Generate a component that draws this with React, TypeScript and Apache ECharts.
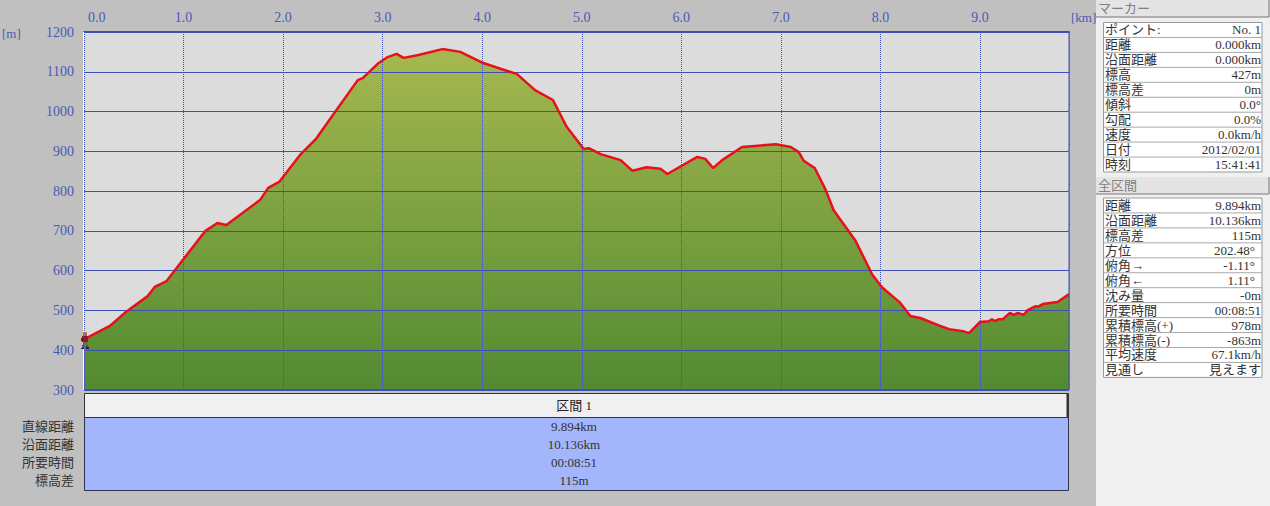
import React, { useEffect, useRef } from "react";
import * as echarts from "echarts";

const distanceKm = [0, 0.26, 0.41, 0.64, 0.71, 0.83, 1.07, 1.22, 1.34, 1.43, 1.77, 1.85, 1.96, 2.17, 2.33, 2.57, 2.75, 2.8, 2.95, 3.05, 3.14, 3.21, 3.36, 3.6, 3.78, 4.01, 4.35, 4.53, 4.71, 4.85, 5.02, 5.07, 5.19, 5.39, 5.51, 5.65, 5.79, 5.86, 6.16, 6.24, 6.32, 6.41, 6.61, 6.95, 7.1, 7.18, 7.23, 7.34, 7.45, 7.53, 7.75, 7.92, 8.02, 8.2, 8.3, 8.4, 8.5, 8.6, 8.69, 8.83, 8.89, 9.0, 9.09, 9.12, 9.15, 9.19, 9.23, 9.3, 9.34, 9.38, 9.44, 9.48, 9.56, 9.58, 9.63, 9.78, 9.894];
const elevationM = [427, 461, 494, 536, 559, 574, 652, 700, 720, 715, 778, 808, 823, 891, 931, 1016, 1079, 1084, 1120, 1137, 1145, 1135, 1142, 1157, 1150, 1122, 1094, 1054, 1029, 961, 906, 908, 893, 878, 851, 860, 856, 843, 886, 881, 858, 878, 911, 918, 911, 898, 876, 858, 803, 752, 675, 589, 557, 519, 486, 481, 471, 461, 453, 448, 443, 471, 473, 478, 473, 478, 478, 494, 489, 494, 489, 501, 511, 509, 516, 521, 541];

const markerRows = [
  ["ポイント:", "No. 1"], ["距離", "0.000km"], ["沿面距離", "0.000km"], ["標高", "427m"], ["標高差", "0m"],
  ["傾斜", "0.0°"], ["勾配", "0.0%"], ["速度", "0.0km/h"], ["日付", "2012/02/01"], ["時刻", "15:41:41"],
];
const totalRows = [
  ["距離", "9.894km"], ["沿面距離", "10.136km"], ["標高差", "115m"], ["方位", "202.48°"], ["俯角→", "-1.11°"], ["俯角←", "1.11°"],
  ["沈み量", "-0m"], ["所要時間", "00:08:51"], ["累積標高(+)", "978m"], ["累積標高(-)", "-863m"], ["平均速度", "67.1km/h"], ["見通し", "見えます"],
];
const sectionLabels = ["直線距離", "沿面距離", "所要時間", "標高差"];
const sectionValues = ["9.894km", "10.136km", "00:08:51", "115m"];
const sectionTitle = "区間 1";

const FONT = '"Liberation Serif","Noto Sans CJK JP"';
const BLUE = "#3f4fb8";
const TEXT = "#333333";

function panelTable(top: number, rows: string[][]) {
  const h = 14.95;
  const out: any[] = [
    { type: "rect", shape: { x: 1103.5, y: top, width: 158.5, height: h * rows.length }, style: { fill: "#ffffff", stroke: "#9a9a9a", lineWidth: 1 } },
  ];
  rows.forEach((r, i) => {
    const y = top + h * i;
    if (i > 0) out.push({ type: "line", shape: { x1: 1104, y1: y, x2: 1262, y2: y }, style: { stroke: "#a8a8a8", lineWidth: 1 } });
    const shift = r[1].endsWith("°") && r[1].length > 4 ? 6 : 0;
    out.push({ type: "text", x: 1105, y: y + h / 2, style: { text: r[0], font: `13px ${FONT}`, fill: TEXT, textAlign: "left", textVerticalAlign: "middle" } });
    out.push({ type: "text", x: 1261 - shift, y: y + h / 2, style: { text: r[1], font: `13px ${FONT}`, fill: TEXT, textAlign: "right", textVerticalAlign: "middle" } });
  });
  return out;
}

function panelHeader(top: number, height: number, label: string) {
  return [
    { type: "rect", shape: { x: 1096, y: top, width: 174, height }, style: { fill: "#e4e4e4" } },
    { type: "line", shape: { x1: 1096, y1: top + height, x2: 1269, y2: top + height }, style: { stroke: "#777777", lineWidth: 1 } },
    { type: "line", shape: { x1: 1269, y1: top, x2: 1269, y2: top + height }, style: { stroke: "#777777", lineWidth: 1 } },
    { type: "text", x: 1098, y: top + height / 2, style: { text: label, font: `13px ${FONT}`, fill: "#808080", textVerticalAlign: "middle" } },
  ];
}

function buildGraphics() {
  const els: any[] = [
    { type: "rect", z: -1, shape: { x: 1096, y: 0, width: 174, height: 506 }, style: { fill: "#f0f0f0" } },
    ...panelHeader(0, 17, "マーカー"),
    ...panelHeader(177, 17, "全区間"),
    ...panelTable(22.5, markerRows),
    ...panelTable(198, totalRows),
    { type: "text", x: 1071, y: 17, style: { text: "[km]", font: `13px ${FONT}`, fill: "#4a5ab4", textVerticalAlign: "middle" } },
    { type: "text", x: 2, y: 33, style: { text: "[m]", font: `13px ${FONT}`, fill: "#4a5ab4", textVerticalAlign: "middle" } },
    { type: "rect", shape: { x: 84.5, y: 393.5, width: 984, height: 24 }, style: { fill: "#f0f0f0", stroke: "#333333", lineWidth: 1 } },
    { type: "line", shape: { x1: 1067.5, y1: 394, x2: 1067.5, y2: 418 }, style: { stroke: "#333333", lineWidth: 2 } },
    { type: "rect", shape: { x: 84.5, y: 417.5, width: 984, height: 73 }, style: { fill: "#a3b6fb", stroke: "#2c3350", lineWidth: 1 } },
    { type: "text", x: 574, y: 405, style: { text: sectionTitle, font: `13px ${FONT}`, fill: "#222222", textAlign: "center", textVerticalAlign: "middle" } },
  ];
  sectionLabels.forEach((t, i) => {
    els.push({ type: "text", x: 74, y: 426.5 + i * 18, style: { text: t, font: `13px ${FONT}`, fill: TEXT, textAlign: "right", textVerticalAlign: "middle" } });
  });
  sectionValues.forEach((t, i) => {
    els.push({ type: "text", x: 574, y: 426.5 + i * 18, style: { text: t, font: `13px ${FONT}`, fill: TEXT, textAlign: "center", textVerticalAlign: "middle" } });
  });
  // white edge and dotted left border of the plot
  els.push({ type: "line", z: 20, shape: { x1: 83.5, y1: 32, x2: 83.5, y2: 390 }, style: { stroke: "#ffffff", lineWidth: 1 } });
  els.push({ type: "line", z: 20, shape: { x1: 84.5, y1: 32, x2: 84.5, y2: 390 }, style: { stroke: BLUE, lineWidth: 1, lineDash: [1, 1] } });
  // walker icon at the marker position
  const walker: [number, number, number, number, string][] = [
    [83, 332, 4, 1, "#a08070"], [83, 333, 4, 3, "#b06a5a"], [82, 336, 6, 6, "#8c1c2c"], [81, 338, 2, 3, "#701520"],
    [83, 342, 4, 3, "#6a6a50"], [82, 345, 2, 3, "#555544"], [86, 345, 2, 2, "#555544"], [81, 348, 3, 1, "#222222"], [86, 347, 3, 2, "#222222"],
  ];
  walker.forEach(([x, y, width, height, fill]) => {
    els.push({ type: "rect", z: 30, shape: { x, y, width, height }, style: { fill } });
  });
  return els;
}

export default function App() {
  const ref = useRef<HTMLDivElement>(null);
  useEffect(() => {
    document.body.style.margin = "0";
    document.body.style.overflow = "hidden";
    const chart = echarts.init(ref.current!, undefined, { renderer: "svg" });
    const points = distanceKm.map((d, i) => [d, elevationM[i]]);
    chart.setOption({
      animation: false,
      backgroundColor: "#c0c0c0",
      textStyle: { fontFamily: FONT },
      grid: { left: 84, right: 201, top: 32, bottom: 116, show: true, backgroundColor: "#dcdcdc", borderWidth: 0 },
      xAxis: {
        type: "value", position: "top", min: 0, max: 9.894, interval: 1, z: 3,
        axisLine: { show: true, onZero: false, lineStyle: { color: BLUE, width: 2 } },
        axisTick: { show: false },
        axisLabel: {
          margin: 8, alignMinLabel: "left", showMaxLabel: false, color: "#4a5ab4", fontFamily: FONT, fontSize: 14,
          formatter: (v: number) => (v === 0 ? "{p|0.0}" : v.toFixed(1)),
          rich: { p: { padding: [0, 0, 0, 4], color: "#4a5ab4", fontFamily: FONT, fontSize: 14 } },
        },
        splitLine: { show: true, lineStyle: { color: BLUE, width: 1, type: [1, 1] } },
      },
      yAxis: {
        type: "value", min: 300, max: 1200, interval: 100, z: 3,
        axisLine: { show: false },
        axisTick: { show: false },
        axisLabel: { margin: 10, color: "#4a5ab4", fontFamily: FONT, fontSize: 14, formatter: (v: number) => String(v) },
        splitLine: { show: true, lineStyle: { color: BLUE, width: 1 } },
      },
      series: [
        {
          type: "line",
          data: points,
          symbol: "none",
          silent: true,
          lineStyle: { width: 0 },
          areaStyle: {
            origin: "start",
            opacity: 1,
            color: new echarts.graphic.LinearGradient(0, 48, 0, 390, [
              { offset: 0, color: "#a6b850" },
              { offset: 1, color: "#528a31" },
            ], true),
          },
          z: 1,
        },
        {
          type: "line",
          data: points,
          symbol: "none",
          lineStyle: { color: "#e8101c", width: 2.5 },
          z: 5,
        },
        {
          type: "line", data: [[0, 300], [9.894, 300]], symbol: "none", silent: true,
          lineStyle: { color: BLUE, width: 2 }, z: 5,
        },
        {
          type: "line", data: [[9.894, 300], [9.894, 1200]], symbol: "none", silent: true,
          lineStyle: { color: BLUE, width: 1 }, z: 5,
        },
      ],
      graphic: buildGraphics(),
    });
    return () => chart.dispose();
  }, []);
  return <div ref={ref} style={{ position: "fixed", left: 0, top: 0, width: 1270, height: 506 }} />;
}
